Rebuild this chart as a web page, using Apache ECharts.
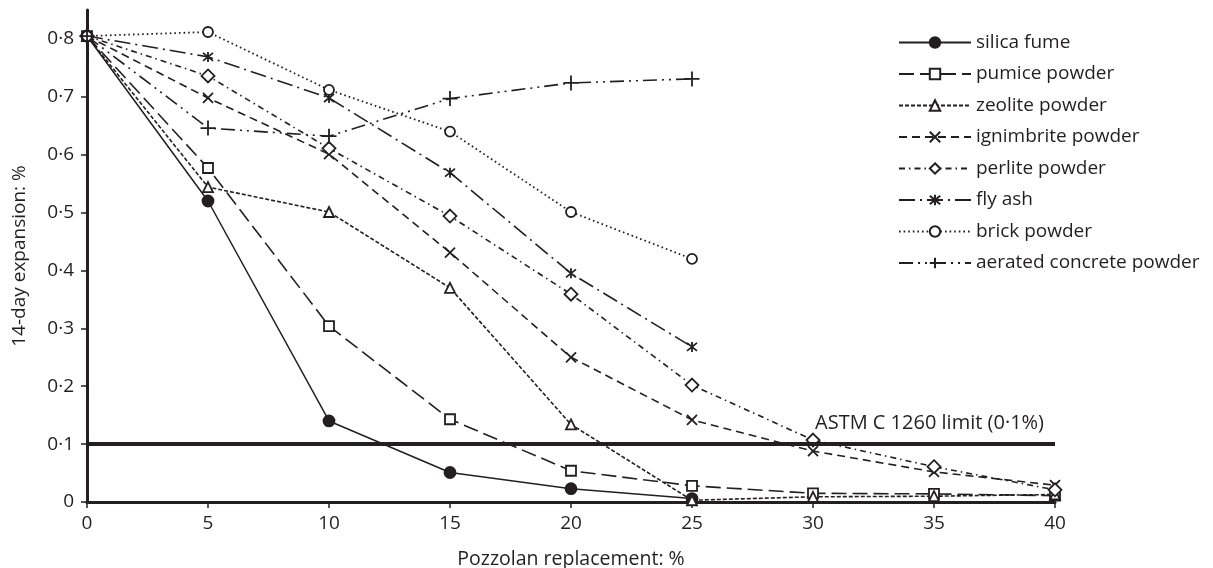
<!DOCTYPE html>
<html>
<head>
<meta charset="utf-8">
<script src="https://cdn.jsdelivr.net/npm/echarts@6/dist/echarts.min.js"></script>
<style>
	html, body { margin: 0; padding: 0; background: #fff; }
	#chart { width: 1213px; height: 568px; }
</style>
</head>
<body>
<div id="chart"></div>
<script>
	// pozzolan replacement (%)
	const replacement = [0, 5, 10, 15, 20, 25, 30, 35, 40];
	const xTicks = [0, 5, 10, 15, 20, 25, 30, 35, 40];
	const yTicks = [0, 0.1, 0.2, 0.3, 0.4, 0.5, 0.6, 0.7, 0.8];

	// 14-day expansion (%)
	const silicaFume = [0.805, 0.52, 0.14, 0.051, 0.023, 0.006];
	const pumicePowder = [0.805, 0.577, 0.304, 0.143, 0.054, 0.028, 0.015, 0.014, 0.011];
	const zeolitePowder = [0.805, 0.544, 0.501, 0.37, 0.134, 0.003, 0.009, 0.01, 0.013];
	const ignimbritePowder = [0.805, 0.698, 0.601, 0.431, 0.25, 0.142, 0.088, 0.052, 0.029];
	const perlitePowder = [0.805, 0.736, 0.611, 0.494, 0.359, 0.202, 0.107, 0.061, 0.021];
	const flyAsh = [0.805, 0.769, 0.698, 0.569, 0.395, 0.268];
	const brickPowder = [0.805, 0.812, 0.712, 0.64, 0.501, 0.42];
	const aeratedConcrete = [0.805, 0.646, 0.632, 0.697, 0.724, 0.731];

	const limitValue = 0.1;

	const FONT = 'Open Sans';
	const BLACK = '#231f20';

	function dot(v) {
		return v === 0 ? '0' : v.toFixed(1).replace('.', '·');
	}

	function pairs(vals) {
		return vals.map((v, i) => [replacement[i], v]);
	}

	/*每条曲线的样式*/
	function makeSeries(name, vals, symbol, size, dash, filled, width) {
		return {
			name: name,
			type: 'line',
			data: pairs(vals),
			symbol: symbol,
			symbolSize: size,
			showAllSymbol: true,
			lineStyle: { color: BLACK, width: width || 1.6, type: dash },
			itemStyle: { color: filled ? BLACK : '#fff', borderColor: BLACK, borderWidth: 1.8 },
			emphasis: { disabled: true },
			z: 3
		};
	}

	const xPath = 'path://M0,0L10,10M0,10L10,0';
	const plusPath = 'path://M5,0L5,10M0,5L10,5';
	const starPath = 'path://M0,1L10,9M0,9L10,1M5,0L5,10';

	const series = [
		makeSeries('silica fume', silicaFume, 'circle', 11, 'solid', true, 1.5),
		makeSeries('pumice powder', pumicePowder, 'rect', 10, [15, 6], false),
		makeSeries('zeolite powder', zeolitePowder, 'triangle', 10, [4, 2], false),
		makeSeries('ignimbrite powder', ignimbritePowder, xPath, 10, [8, 5], false),
		makeSeries('perlite powder', perlitePowder, 'diamond', 13, [6, 4, 1.5, 4], false),
		makeSeries('fly ash', flyAsh, starPath, 10, [16, 5, 2, 5], true),
		makeSeries('brick powder', brickPowder, 'circle', 10, [1.6, 3], false, 1.8),
		makeSeries('aerated concrete powder', aeratedConcrete, plusPath, 15, [14, 5, 2, 5, 2, 5], true)
	];

	// ASTM 限值线
	series[0].markLine = {
		silent: true,
		symbol: 'none',
		lineStyle: { color: BLACK, width: 4, type: 'solid' },
		label: {
			show: true,
			position: 'insideEndTop',
			formatter: 'ASTM C 1260 limit (0·1%)',
			color: BLACK,
			fontFamily: FONT,
			fontSize: 20,
			distance: 11
		},
		data: [{ yAxis: limitValue }]
	};

	const myChart = echarts.init(document.getElementById('chart'), null, { renderer: 'canvas' });

	const option = {
		animation: false,
		backgroundColor: '#fff',
		grid: { left: 87, right: 158, top: 10, bottom: 66, containLabel: false, outerBoundsMode: 'none' },
		legend: {
			left: 893,
			top: 28,
			orient: 'vertical',
			itemWidth: 72,
			itemHeight: 13,
			itemGap: 12.5,
			textStyle: { color: BLACK, fontFamily: FONT, fontSize: 19 },
			data: series.map(s => s.name)
		},
		xAxis: {
			type: 'value',
			min: 0,
			max: 40,
			interval: 5,
			name: 'Pozzolan replacement: %',
			nameLocation: 'middle',
			nameGap: 47,
			nameTextStyle: { color: BLACK, fontFamily: FONT, fontSize: 19.5 },
			axisLine: { show: true, lineStyle: { color: BLACK, width: 3 } },
			axisTick: { show: true, length: 6, lineStyle: { color: BLACK, width: 1.5 } },
			axisLabel: { color: BLACK, fontFamily: FONT, fontSize: 19, margin: 12, customValues: xTicks },
			splitLine: { show: false }
		},
		yAxis: {
			type: 'value',
			min: 0,
			max: 0.85,
			name: '14-day expansion: %',
			nameLocation: 'middle',
			nameGap: 58,
			nameTextStyle: { color: BLACK, fontFamily: FONT, fontSize: 19 },
			axisLine: { show: true, lineStyle: { color: BLACK, width: 3 } },
			axisTick: { show: true, length: 6, lineStyle: { color: BLACK, width: 1.5 }, customValues: yTicks },
			axisLabel: { color: BLACK, fontFamily: FONT, fontSize: 19, margin: 13, customValues: yTicks, formatter: dot },
			splitLine: { show: false }
		},
		series: series
	};

	myChart.setOption(option);
</script>
</body>
</html>
